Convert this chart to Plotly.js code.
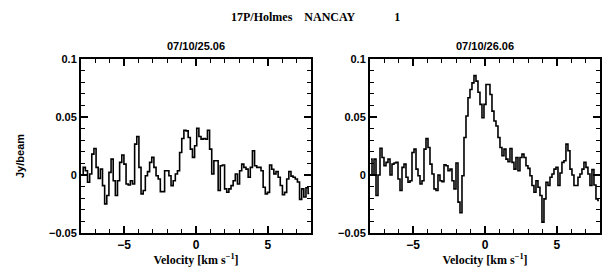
<!DOCTYPE html>
<html>
<head>
<meta charset="utf-8">
<script src="https://cdn.plot.ly/plotly-3.0.1.min.js"></script>
<style>html,body{margin:0;padding:0;background:#fff;}#chart{width:605px;height:269px;}</style>
</head>
<body>
<div id="chart"></div>
<script>
// Channel grids (first channel velocity and channel width, km/s)
const v0Left = -7.92, dvLeft = 0.149;
const v0Right = -7.93, dvRight = 0.1391;

// 07/10/25.06 spectrum (Jy/beam)
const fluxLeft = [
 0.000, 0.0066, 0.0037, -0.0063, 0.0009, 0.018, 0.0229, 0.0066, -0.0029, 0.0051,
 -0.0092, -0.0249, -0.0177, 0.0023, 0.0137, -0.0049, -0.0177, -0.0049, 0.0109, 0.0172,
 0.0094, -0.0077, -0.0086, -0.0049, -0.0077, 0.0266, 0.0332, 0.0066, -0.0163, -0.0134,
 -0.0006, 0.0029, 0.0109, 0.0152, 0.0066, -0.0006, -0.0034, -0.0143, -0.0143, 0.0037,
 0.0037, -0.0006, -0.0092, -0.0049, 0.0009, 0.0037, 0.0194, 0.0315, 0.0386, 0.038,
 0.0323, 0.0223, 0.0152, 0.0252, 0.0403, 0.0332, 0.0309, 0.0315, 0.0309, 0.0386,
 0.0223, 0.0009, 0.0123, 0.0123, -0.0134, 0.008, 0.0086, -0.012, -0.0149, -0.012,
 -0.0092, -0.0049, 0.0009, -0.0077, 0.0037, 0.0094, 0.0066, 0.0051, -0.002, 0.0066,
 0.0209, 0.008, 0.0066, 0.0066, 0.0037, -0.0106, -0.0163, -0.015, 0.0086, 0.005,
 0.001, 0.003, -0.002, -0.009, -0.017, -0.015, -0.0034, 0.003, -0.001, -0.002,
 -0.0034, -0.006, -0.021, -0.012, -0.019, -0.011, -0.016
];

// 07/10/26.06 spectrum (Jy/beam)
const fluxRight = [
 0.0137, 0.000, 0.0137, -0.0177, 0.000, 0.0231, 0.0151, 0.008, 0.0109, 0.0137,
 0.000, 0.0094, 0.0103, 0.0109, -0.0034, -0.0134, 0.0066, 0.0094, -0.002, -0.0063,
 -0.0049, 0.0194, 0.0223, 0.0051, -0.0006, -0.0077, -0.0049, 0.0223, 0.0314, 0.0237,
 0.0094, 0.0009, -0.012, -0.0134, 0.000, -0.0049, -0.0057, 0.0089, 0.008, 0.0037,
 0.0051, -0.0049, -0.012, 0.0103, -0.0234, -0.0326, -0.0006, 0.0323, 0.0509, 0.0666,
 0.0737, 0.0794, 0.0857, 0.0809, 0.0714, 0.0609, 0.0494, 0.0609, 0.078, 0.078,
 0.0694, 0.0551, 0.0466, 0.0423, 0.0323, 0.0237, 0.0166, 0.0223, 0.0137, 0.0114,
 0.0229, 0.0109, 0.0051, 0.0151, 0.0037, 0.0151, 0.018, 0.0151, 0.008, 0.0057,
 -0.0006, -0.0091, -0.0149, -0.0049, -0.0106, -0.0177, -0.0406, -0.0206, -0.0063, -0.0091,
 -0.002, 0.0009, 0.0051, 0.0066, -0.0091, 0.0017, 0.0109, 0.0123, 0.0266, 0.0209,
 0.0051, 0.000, -0.0091, -0.0091, -0.002, 0.0009, 0.0051, 0.0109, 0.0066, 0.0009,
 -0.0091, 0.0046, -0.0086, -0.0206, -0.022
];

const mainTitle = "17P/Holmes&nbsp;&nbsp;&nbsp;&nbsp;NANCAY&nbsp;&nbsp;&nbsp;&nbsp;&nbsp;&nbsp;&nbsp;&nbsp;&nbsp;&nbsp;&nbsp;&nbsp;&nbsp;1";
const panelTitles = ["07/10/25.06", "07/10/26.06"];
const xTitle = "Velocity [km s<sup>−1</sup>]";
const yTitle = "Jy/beam";

const sans = "Liberation Sans, Arial, sans-serif";
const serif = "Liberation Serif, Times New Roman, serif";

const traces = [
  {x0: v0Left, dx: dvLeft, y: fluxLeft, type: "scatter", mode: "lines",
   line: {shape: "hvh", color: "#000", width: 1.6}, xaxis: "x", yaxis: "y", hoverinfo: "skip"},
  {x0: v0Right, dx: dvRight, y: fluxRight, type: "scatter", mode: "lines",
   line: {shape: "hvh", color: "#000", width: 1.6}, xaxis: "x2", yaxis: "y2", hoverinfo: "skip"}
];

function xax(domain, anchor) {
  return {
    domain: domain, anchor: anchor, range: [-8, 8], dtick: 5, tick0: 0,
    ticks: "inside", ticklen: 7, tickwidth: 1.5, tickcolor: "#000",
    minor: {dtick: 1, ticks: "inside", ticklen: 4, tickwidth: 1.2, tickcolor: "#000"},
    showline: true, linecolor: "#000", linewidth: 2, mirror: "allticks",
    showgrid: false, zeroline: false, fixedrange: true,
    tickfont: {family: sans, size: 12, color: "#000", weight: "bold"},
    title: {text: xTitle, font: {family: serif, size: 12, color: "#000", weight: "bold"}, standoff: 1},
    automargin: false
  };
}
function yax(domain, anchor) {
  return {
    domain: domain, anchor: anchor, range: [-0.05, 0.1], dtick: 0.05, tick0: 0,
    ticks: "inside", ticklen: 7, tickwidth: 1.5, tickcolor: "#000",
    minor: {dtick: 0.01, ticks: "inside", ticklen: 4, tickwidth: 1.2, tickcolor: "#000"},
    showline: true, linecolor: "#000", linewidth: 2, mirror: "allticks",
    showgrid: false, zeroline: false, fixedrange: true,
    tickfont: {family: sans, size: 11, color: "#000", weight: "bold"},
    automargin: false
  };
}

const yDom = [36/269, 210/269];
const layout = {
  width: 605, height: 269,
  margin: {l: 0, r: 0, t: 0, b: 0},
  paper_bgcolor: "#fff", plot_bgcolor: "#fff",
  showlegend: false,
  title: {text: mainTitle, x: 231/605, xanchor: "left", y: 1 - 17/269, yanchor: "middle",
          font: {family: serif, size: 12, color: "#000", weight: "bold"}},
  xaxis: xax([81/605, 311/605], "y"),
  yaxis: yax(yDom, "x"),
  xaxis2: xax([370/605, 600/605], "y2"),
  yaxis2: yax(yDom, "x2"),
  annotations: [
    {text: panelTitles[0], xref: "paper", yref: "paper", x: 196/605, y: 1 - 46/269,
     showarrow: false, xanchor: "center", yanchor: "middle",
     font: {family: sans, size: 11, color: "#000", weight: "bold"}},
    {text: panelTitles[1], xref: "paper", yref: "paper", x: 485/605, y: 1 - 46/269,
     showarrow: false, xanchor: "center", yanchor: "middle",
     font: {family: sans, size: 11, color: "#000", weight: "bold"}},
    {text: yTitle, xref: "paper", yref: "paper", x: 20/605, y: 1 - 156/269,
     showarrow: false, xanchor: "center", yanchor: "middle", textangle: -90,
     font: {family: sans, size: 11, color: "#000", weight: "bold"}}
  ]
};

Plotly.newPlot("chart", traces, layout, {staticPlot: true, displayModeBar: false});
</script>
</body>
</html>
